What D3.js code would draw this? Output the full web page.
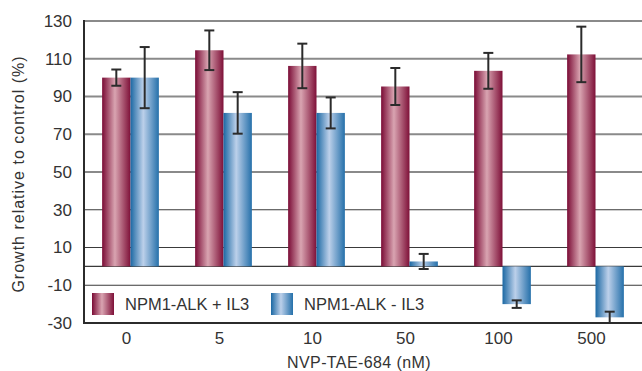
<!DOCTYPE html>
<html>
  <head>
    <meta charset="utf-8">
    <title>NVP-TAE-684 growth</title>
    <script src="https://d3js.org/d3.v7.min.js"></script>
    <style>
      body { margin: 0; background: #fff; }
      text { font-family: "Liberation Sans", Arial, sans-serif; fill: #333; }
    </style>
  </head>
  <body>
    <script>

      var width = 642;
      var height = 371;

      // data
      var doses = ["0", "5", "10", "50", "100", "500"];
      var seriesNames = ["NPM1-ALK + IL3", "NPM1-ALK - IL3"];
      var withIL3 = [100, 114.5, 106.2, 95.3, 103.6, 112.3];
      var withIL3Err = [4.3, 10.5, 11.8, 9.8, 9.5, 14.7];
      var withoutIL3 = [100, 81.3, 81.3, 2.6, -20, -27];
      var withoutIL3Err = [16.2, 11, 8.2, 4, 2, 3];
      var yTicks = [-30, -10, 10, 30, 50, 70, 90, 110, 130];

      var plotLeft = 84, plotRight = 642, plotTop = 21, plotBottom = 323;

      var svg = d3.select("body").append("svg")
        .attr("width", width)
        .attr("height", height);

      var defs = svg.append("defs");
      function gradient(id, edge, mid, edge2){
        var g = defs.append("linearGradient").attr("id", id)
          .attr("x1", "0%").attr("x2", "100%").attr("y1", "0%").attr("y2", "0%");
        g.append("stop").attr("offset", "0%").attr("stop-color", edge);
        g.append("stop").attr("offset", "45%").attr("stop-color", mid);
        g.append("stop").attr("offset", "100%").attr("stop-color", edge2);
      }
      gradient("gRed", "#7a0b35", "#d9a4b1", "#7e1038");
      gradient("gBlue", "#1b68a3", "#bcd0ea", "#2570aa");
      var fills = ["url(#gRed)", "url(#gBlue)"];

      var x = d3.scaleBand().domain(doses).range([plotLeft, plotRight])
        .paddingInner(0.39).paddingOuter(0.195);
      var xSub = d3.scaleBand().domain(seriesNames).range([0, x.bandwidth()]);
      var y = d3.scaleLinear().domain([-30, 130]).range([plotBottom, plotTop]);

      // gridlines (upper ones grey and heavier, lower ones dark and thin, as in the print)
      svg.append("g").selectAll("line").data(yTicks.concat([0]).filter(function(d){ return d > -30; }))
        .enter().append("line")
        .attr("x1", plotLeft).attr("x2", plotRight)
        .attr("y1", function(d){ return y(d); })
        .attr("y2", function(d){ return y(d); })
        .attr("stroke", function(d){ return d >= 50 ? "#8a8a8a" : "#3a3a3a"; })
        .attr("stroke-width", function(d){ return d >= 50 ? 2 : 1.2; });

      // table for bars
      var rows = [];
      doses.forEach(function(d, i){
        rows.push({dose: d, s: seriesNames[0], v: withIL3[i], e: withIL3Err[i], k: 0});
        rows.push({dose: d, s: seriesNames[1], v: withoutIL3[i], e: withoutIL3Err[i], k: 1});
      });

      svg.append("g").selectAll("rect").data(rows).enter().append("rect")
        .attr("x", function(d){ return x(d.dose) + xSub(d.s); })
        .attr("width", xSub.bandwidth())
        .attr("y", function(d){ return y(Math.max(0, d.v)); })
        .attr("height", function(d){ return Math.abs(y(d.v) - y(0)); })
        .attr("fill", function(d){ return fills[d.k]; });

      // error bars
      var err = svg.append("g").attr("stroke", "#2b2b2b").attr("stroke-width", 2)
        .selectAll("g").data(rows).enter().append("g");
      var cx = function(d){ return x(d.dose) + xSub(d.s) + xSub.bandwidth() / 2; };
      err.append("line")
        .attr("x1", cx).attr("x2", cx)
        .attr("y1", function(d){ return y(d.v + d.e); })
        .attr("y2", function(d){ return y(d.v - d.e); });
      [1, -1].forEach(function(sign){
        err.append("line")
          .attr("x1", function(d){ return cx(d) - 5; })
          .attr("x2", function(d){ return cx(d) + 5; })
          .attr("y1", function(d){ return y(d.v + sign * d.e); })
          .attr("y2", function(d){ return y(d.v + sign * d.e); });
      });

      // axis lines
      svg.append("line").attr("x1", plotLeft).attr("x2", plotLeft)
        .attr("y1", plotTop - 1).attr("y2", plotBottom + 1)
        .attr("stroke", "#2b2b2b").attr("stroke-width", 2);
      svg.append("line").attr("x1", plotLeft).attr("x2", plotRight)
        .attr("y1", plotBottom).attr("y2", plotBottom)
        .attr("stroke", "#2b2b2b").attr("stroke-width", 2);

      // plain hyphen for negatives, like the original
      var yAxis = svg.append("g").attr("transform", "translate(" + plotLeft + ",0)")
        .call(d3.axisLeft(y).tickValues(yTicks).tickSize(0).tickPadding(12)
          .tickFormat(function(d){ return String(d); }));
      yAxis.select(".domain").remove();
      yAxis.selectAll("text").style("font-size", "17px").attr("fill", "#333")
        .style("font-family", "'Liberation Sans', Arial, sans-serif");

      var xAxis = svg.append("g").attr("transform", "translate(-4," + plotBottom + ")")
        .call(d3.axisBottom(x).tickSize(0).tickPadding(9));
      xAxis.select(".domain").remove();
      xAxis.selectAll("text").style("font-size", "17px").attr("fill", "#333")
        .style("font-family", "'Liberation Sans', Arial, sans-serif");

      // titles
      svg.append("text")
        .attr("transform", "translate(18,174) rotate(-90)")
        .attr("text-anchor", "middle").attr("dominant-baseline", "central")
        .style("font-size", "16px").style("letter-spacing", "1px")
        .text("Growth relative to control (%)");
      svg.append("text")
        .attr("x", 359).attr("y", 368)
        .attr("text-anchor", "middle")
        .style("font-size", "16px").style("letter-spacing", "0.4px")
        .text("NVP-TAE-684 (nM)");

      // legend
      var legendX = [92, 271];
      var legend = svg.append("g").selectAll("g").data(seriesNames).enter().append("g")
        .attr("transform", function(d, i){ return "translate(" + legendX[i] + ",293)"; });
      legend.append("rect").attr("width", 22).attr("height", 22)
        .attr("fill", function(d, i){ return fills[i]; });
      legend.append("text").attr("x", 33).attr("y", 17)
        .style("font-size", "16.5px")
        .text(function(d){ return d; });

    </script>
  </body>
</html>
